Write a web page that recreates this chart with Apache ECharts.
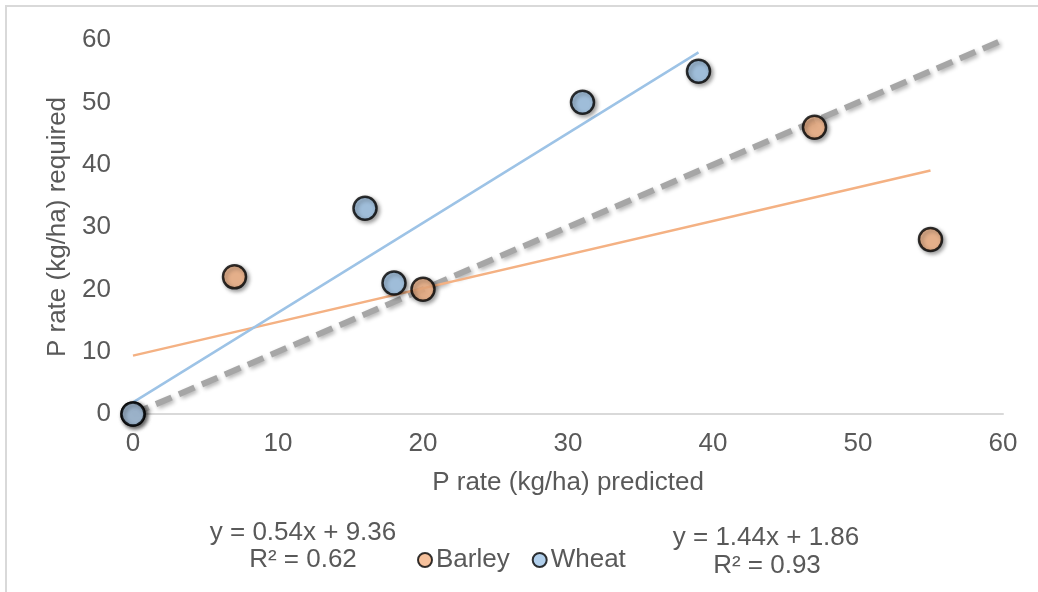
<!DOCTYPE html>
<html>
<head>
<meta charset="utf-8">
<script src="https://cdn.jsdelivr.net/npm/echarts@6/dist/echarts.min.js"></script>
<style>
  html, body { margin: 0; padding: 0; background: #ffffff; }
  #chart { width: 1038px; height: 592px; }
</style>
</head>
<body>
<div id="chart"></div>
<script>
// Data
const barleyPoints = [[0, 0], [7, 22], [20, 20], [47, 46], [55, 28]];
const wheatPoints = [[0, 0], [16, 33], [18, 21], [31, 50], [39, 55]];
const barleyTrend = [[0, 9.36], [55, 39.06]];
const wheatTrend = [[0, 1.86], [39, 58.02]];
const oneToOne = [[0, 0], [60, 60]];
const barleyEquation = ['y = 0.54x + 9.36', 'R² = 0.62'];
const wheatEquation = ['y = 1.44x + 1.86', 'R² = 0.93'];
const xTicks = [0, 10, 20, 30, 40, 50, 60];
const yTicks = [0, 10, 20, 30, 40, 50, 60];

const FONT = '"Liberation Sans", Arial, sans-serif';
const FS = 26;
const TEXT = '#595959';
const barleyColor = '#F4B183';
const wheatColor = '#9DC3E6';

const chart = echarts.init(document.getElementById('chart'));

const markerStyle = (c) => ({
  color: c,
  borderColor: '#000000',
  borderWidth: 2.5,
  shadowColor: 'rgba(0,0,0,0.45)',
  shadowBlur: 4,
  shadowOffsetX: 2,
  shadowOffsetY: 2
});

const eqText = (t, x, y) => ({
  type: 'text', x: x, y: y, silent: true,
  style: { text: t, fill: TEXT, font: FS + 'px ' + FONT, textAlign: 'center', textVerticalAlign: 'middle' }
});

chart.setOption({
  animation: false,
  backgroundColor: '#ffffff',
  textStyle: { fontFamily: FONT },
  grid: { left: 133, right: 35, top: 40, bottom: 178, containLabel: false },
  xAxis: {
    type: 'value',
    min: xTicks[0], max: xTicks[xTicks.length - 1], interval: 10,
    name: 'P rate (kg/ha) predicted',
    nameLocation: 'middle',
    nameGap: 56,
    nameTextStyle: { color: TEXT, fontSize: FS, fontFamily: FONT, verticalAlign: 'top' },
    axisLine: { show: true, lineStyle: { color: '#d9d9d9', width: 2 } },
    axisTick: { show: false },
    splitLine: { show: false },
    axisLabel: { color: TEXT, fontSize: FS, fontFamily: FONT, margin: 17 }
  },
  yAxis: {
    type: 'value',
    min: yTicks[0], max: yTicks[yTicks.length - 1], interval: 10,
    name: 'P rate (kg/ha) required',
    nameLocation: 'middle',
    nameGap: 62,
    nameTextStyle: { color: TEXT, fontSize: FS, fontFamily: FONT },
    axisLine: { show: false },
    axisTick: { show: false },
    splitLine: { show: false },
    axisLabel: { color: TEXT, fontSize: FS, fontFamily: FONT, margin: 22 }
  },
  legend: {
    data: ['Barley', 'Wheat'],
    left: 412,
    top: 542,
    itemWidth: 14,
    itemHeight: 14,
    itemGap: 22,
    icon: 'circle',
    textStyle: { color: TEXT, fontSize: FS, fontFamily: FONT, padding: [0, 0, 0, -1] }
  },
  series: [
    {
      name: '1:1',
      type: 'line',
      data: oneToOne,
      symbol: 'none',
      z: 1,
      lineStyle: {
        color: '#a6a6a6', width: 6, type: [17, 8],
        shadowColor: 'rgba(0,0,0,0.3)', shadowBlur: 4, shadowOffsetX: 2, shadowOffsetY: 2
      },
      silent: true
    },
    {
      name: 'Barley trend',
      type: 'line',
      data: barleyTrend,
      symbol: 'none',
      z: 2,
      lineStyle: { color: barleyColor, width: 2.5 },
      silent: true
    },
    {
      name: 'Wheat trend',
      type: 'line',
      data: wheatTrend,
      symbol: 'none',
      z: 2,
      lineStyle: { color: wheatColor, width: 2.5 },
      silent: true
    },
    {
      name: 'Barley',
      type: 'scatter',
      data: barleyPoints,
      symbol: 'circle',
      symbolSize: 23,
      z: 3,
      itemStyle: markerStyle(barleyColor)
    },
    {
      name: 'Wheat',
      type: 'scatter',
      data: wheatPoints,
      symbol: 'circle',
      symbolSize: 23,
      z: 4,
      itemStyle: markerStyle(wheatColor)
    }
  ],
  graphic: [
    {
      type: 'rect', silent: true, z: -10,
      shape: { x: 6, y: 6, width: 1040, height: 600 },
      style: { fill: 'none', stroke: '#d9d9d9', lineWidth: 2 }
    },
    eqText(barleyEquation[0], 303, 533),
    eqText(barleyEquation[1], 303, 560),
    eqText(wheatEquation[0], 766, 538),
    eqText(wheatEquation[1], 767, 566)
  ]
});
</script>
</body>
</html>
